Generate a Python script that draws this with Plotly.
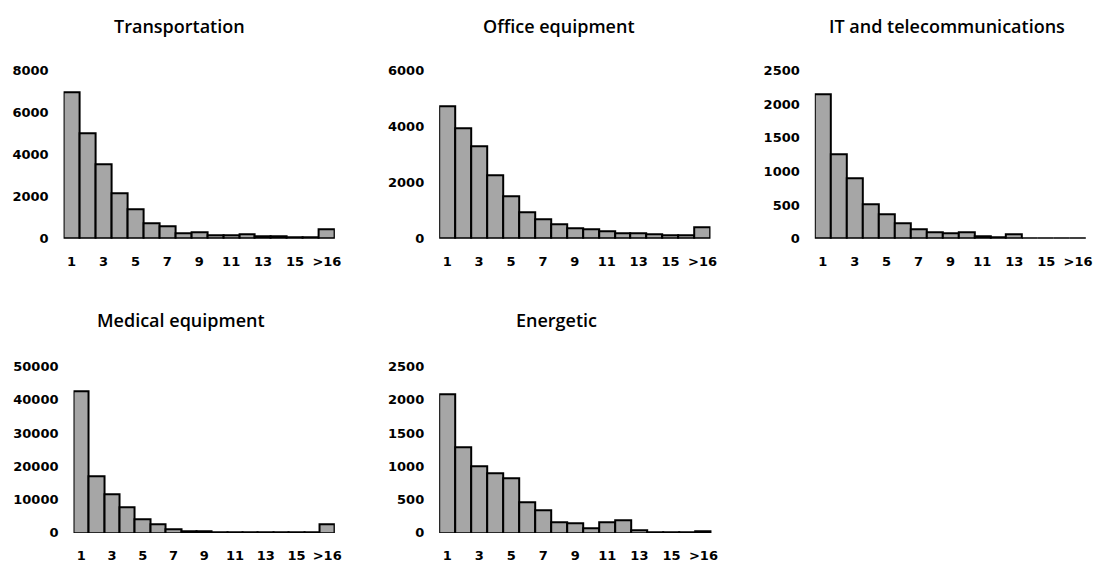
import plotly.graph_objects as go

# Bins: 1..16 and an overflow bin
bins = [str(i) for i in range(1, 17)] + [">16"]
tick_positions = [str(i) for i in range(1, 16, 2)] + [">16"]

transportation = [6950, 5030, 3540, 2150, 1385, 740, 570, 280, 300, 185, 185, 200, 140, 130, 75, 75, 430]
office_equipment = [4730, 3920, 3290, 2270, 1520, 950, 680, 520, 380, 320, 280, 185, 185, 160, 115, 115, 400]
it_telecom = [2140, 1250, 900, 505, 360, 225, 135, 96, 77, 96, 43, 24, 62, 12, 12, 12, 12]
medical_equipment = [42400, 17060, 11700, 7800, 4200, 2440, 1000, 500, 500, 300, 200, 150, 150, 120, 120, 120, 2440]
energetic = [2085, 1280, 1000, 887, 820, 458, 341, 156, 136, 63, 156, 195, 34, 12, 12, 12, 30]

panels = [
    ("Transportation", transportation, 8000, [0, 2000, 4000, 6000, 8000]),
    ("Office equipment", office_equipment, 6000, [0, 2000, 4000, 6000]),
    ("IT and telecommunications", it_telecom, 2500, [0, 500, 1000, 1500, 2000, 2500]),
    ("Medical equipment", medical_equipment, 50000, [0, 10000, 20000, 30000, 40000, 50000]),
    ("Energetic", energetic, 2500, [0, 500, 1000, 1500, 2000, 2500]),
]

W, H = 1105, 574
# panel plot areas in pixels: (left, right, top, bottom)
boxes = [
    (64, 337, 65, 238),
    (442, 715, 65, 238),
    (820, 1093, 65, 238),
    (74, 337, 369, 540),
    (442, 716, 369, 540),
]
# title centres in pixels: (x, y)
title_pos = [(181, 20), (563, 20), (953, 20), (182, 321), (560, 321)]

tick_font = dict(family="DejaVu Sans", size=13, color="#000000", weight="bold")

fig = go.Figure()
layout = dict(
    width=W, height=H,
    margin=dict(l=0, r=0, t=0, b=0),
    paper_bgcolor="white", plot_bgcolor="white",
    showlegend=False, bargap=0,
    annotations=[],
)

for i, ((name, vals, ymax, yt), (l, r, t, b), (tx, ty)) in enumerate(zip(panels, boxes, title_pos)):
    k = "" if i == 0 else str(i + 1)
    fig.add_trace(go.Bar(
        x=bins, y=vals, xaxis="x" + k, yaxis="y" + k,
        marker=dict(color="#a6a6a6", line=dict(color="#000000", width=2)),
        width=1.0, hoverinfo="x+y",
    ))
    layout["xaxis" + k] = dict(
        domain=[l / W, r / W], anchor="y" + k,
        type="category", categoryorder="array", categoryarray=bins,
        range=[-0.5, 16.5],
        tickmode="array", tickvals=tick_positions, ticktext=tick_positions,
        showgrid=False, zeroline=False, showline=False, ticks="",
        ticklabelstandoff=13, tickfont=tick_font, fixedrange=True,
    )
    layout["yaxis" + k] = dict(
        domain=[1 - b / H, 1 - t / H], anchor="x" + k,
        range=[0, ymax], tickmode="array", tickvals=yt,
        ticktext=[str(v) for v in yt],
        showgrid=False, zeroline=False, showline=False, ticks="",
        ticklabelstandoff=14, tickfont=tick_font, fixedrange=True,
    )
    layout["annotations"].append(dict(
        text=name, x=tx / W, y=1 - ty / H, xref="paper", yref="paper",
        xanchor="center", yanchor="middle", showarrow=False,
        font=dict(family="Open Sans", size=18, color="#000000", weight=600),
    ))

fig.update_layout(**layout)
fig.write_html("out.html")
